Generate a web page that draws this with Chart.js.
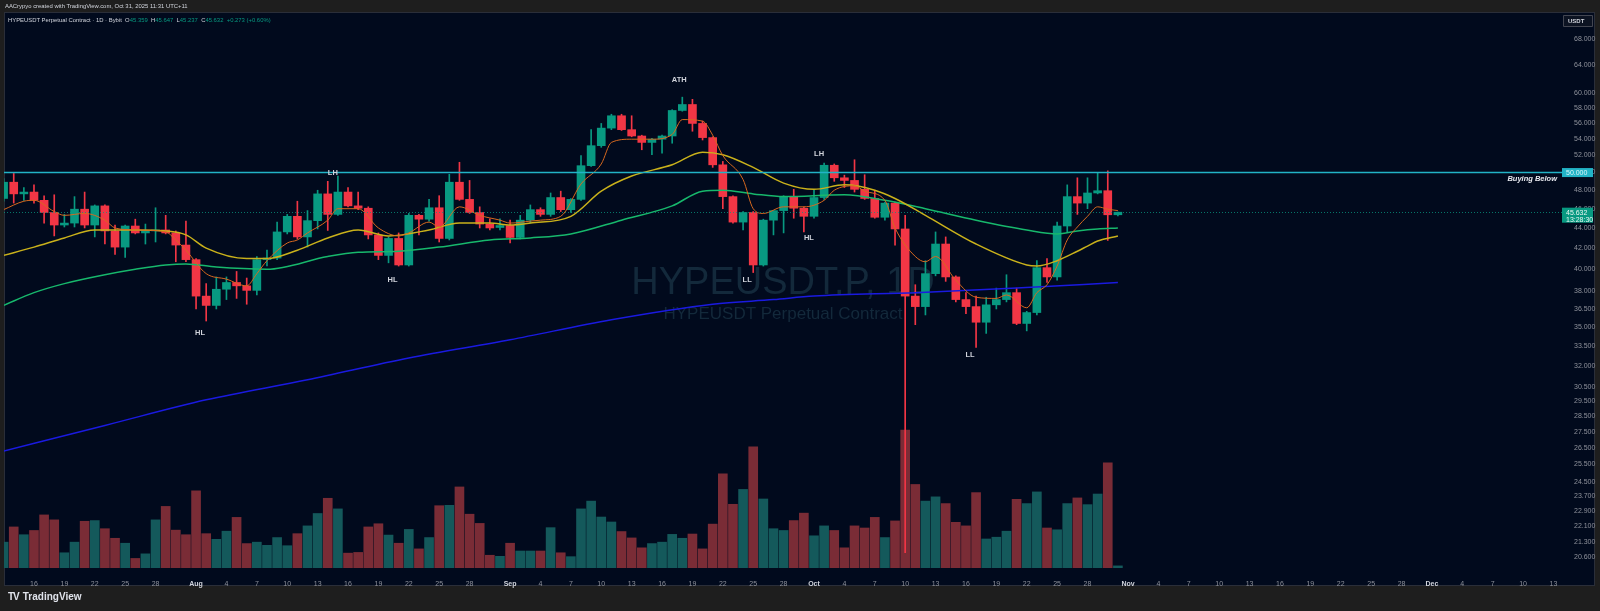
<!DOCTYPE html>
<html>
<head>
<meta charset="utf-8">
<title>HYPEUSDT Perpetual Contract - 1D</title>
<script src="https://cdn.jsdelivr.net/npm/chart.js@4.4.0/dist/chart.umd.min.js"></script>
<style>
  html, body { margin: 0; padding: 0; width: 1600px; height: 611px; background: #1e1e1e; overflow: hidden;
    font-family: "Liberation Sans", Arial, sans-serif; }
  #pane { position: absolute; left: 4px; top: 12px; width: 1591px; height: 574px; background: #010a1d;
    border: 1px solid #2a2e39; box-sizing: border-box; }
  #header { position: absolute; left: 5px; top: 3px; font-size: 5.9px; color: #d1d4dc; white-space: nowrap; }
  #legend { position: absolute; left: 8px; top: 17px; font-size: 5.9px; color: #d1d4dc; white-space: nowrap; }
  #legend .v { color: #089981; }
  #logo { position: absolute; left: 8px; top: 591px; font-size: 10px; font-weight: bold; color: #e0e3eb; white-space: nowrap; }
  #logo b { font-weight: 900; letter-spacing: -1px; margin-right: 4px; }
  canvas { position: absolute; left: 0; top: 0; }
</style>
</head>
<body>
<div id="pane"></div>
<canvas id="chart" width="1600" height="611"></canvas>
<div id="header">AACrypyo created with TradingView.com, Oct 31, 2025 11:31 UTC+11</div>
<div id="legend">HYPEUSDT Perpetual Contract · 1D · Bybit&nbsp;&nbsp;O<span class="v">45.359</span>&nbsp;&nbsp;H<span class="v">45.647</span>&nbsp;&nbsp;L<span class="v">45.237</span>&nbsp;&nbsp;C<span class="v">45.632</span>&nbsp;&nbsp;<span class="v">+0.273 (+0.60%)</span></div>
<div id="logo"><b>TV</b>TradingView</div>
<script>
// Daily candles, first one is 13 Jul 2025, last one 31 Oct 2025
const firstDay = [2025, 6, 13];
const opens = [47.1, 48.9, 47.6, 47.8, 46.9, 45.6, 44.3, 44.5, 45.95, 44.3, 46.3, 43.7, 42.1, 44.2, 43.5, 43.7, 43.8, 43.5, 42.3,
  40.9, 37.6, 36.8, 38.2, 38.8, 38.5, 38.1, 40.9, 41.05, 43.6, 45.2, 43.1, 44.75, 47.6, 45.4, 47.8, 46.3, 46.05, 43.3, 41.3, 42.95,
  40.4, 45.3, 44.9, 46.1, 42.95, 48.9, 47.0, 45.6, 44.4, 44.05, 44.25, 43.05, 44.8, 45.9, 45.4, 47.2, 45.9, 47.0, 50.8, 53.2,
  55.4, 57.0, 55.2, 54.4, 53.6, 54.0, 54.4, 57.7, 58.5, 56.0, 54.2, 50.9, 47.3, 44.6, 45.6, 40.4, 44.8, 45.8, 47.3, 46.05,
  45.2, 47.2, 50.85, 49.4, 49.1, 48.1, 47.1, 45.1, 46.6, 43.9, 37.6, 36.7, 39.6, 42.4, 39.3, 37.3, 36.7, 35.4, 36.85, 37.3,
  37.9, 35.3, 36.2, 40.15, 39.3, 44.2, 47.3, 46.6, 47.7, 47.95, 45.359];
const highs = [49.3, 49.9, 48.3, 48.6, 47.4, 47.5, 45.4, 47.3, 47.8, 46.4, 46.4, 44.3, 44.3, 44.9, 44.4, 46.1, 45.3, 43.7, 44.7,
  41.0, 38.7, 39.3, 39.3, 39.8, 39.2, 41.2, 41.8, 44.6, 45.4, 46.8, 45.8, 48.0, 49.0, 49.6, 48.3, 47.8, 46.2, 43.5, 43.1, 43.5,
  45.5, 45.4, 47.0, 47.4, 49.8, 51.2, 49.1, 46.2, 44.95, 44.95, 44.8, 45.3, 46.4, 46.1, 47.7, 47.9, 47.1, 52.0, 55.2, 56.0,
  57.2, 57.2, 57.0, 54.5, 54.1, 54.5, 57.8, 59.5, 59.2, 56.3, 54.3, 51.3, 47.4, 45.7, 45.7, 44.9, 45.8, 47.4, 48.1, 46.2,
  48.0, 51.1, 51.0, 49.7, 51.5, 49.75, 48.0, 46.7, 46.7, 45.3, 38.6, 40.8, 43.6, 43.1, 39.4, 37.9, 37.6, 37.5, 38.3, 39.5,
  38.3, 36.3, 40.8, 41.0, 44.6, 48.6, 49.4, 49.4, 50.0, 50.2, 45.647];
const lows = [46.8, 46.6, 46.9, 46.6, 44.5, 43.2, 44.1, 44.1, 44.0, 43.1, 42.4, 41.4, 41.1, 43.4, 42.4, 42.6, 43.4, 40.7, 40.7,
  36.5, 35.5, 36.5, 37.3, 37.4, 36.9, 37.7, 40.3, 40.9, 43.4, 42.9, 42.1, 43.9, 43.75, 45.3, 46.2, 45.9, 42.9, 40.9, 40.6, 40.3,
  40.3, 43.3, 44.7, 42.6, 42.8, 46.9, 45.5, 44.0, 43.8, 43.8, 42.5, 42.9, 44.5, 45.2, 45.2, 45.7, 45.6, 46.9, 50.7, 53.0,
  55.2, 55.1, 54.3, 52.7, 52.1, 52.3, 53.5, 57.6, 55.0, 53.9, 50.6, 46.0, 44.5, 43.8, 39.7, 40.3, 43.3, 43.5, 45.0, 43.6,
  45.0, 47.0, 49.0, 48.3, 47.8, 47.0, 45.0, 44.8, 42.3, 20.8, 35.2, 36.0, 39.4, 38.9, 37.1, 36.1, 33.4, 34.5, 36.5, 37.1,
  35.2, 34.7, 36.0, 38.8, 39.0, 43.6, 45.4, 46.0, 47.6, 42.75, 45.237];
const closes = [48.9, 47.6, 47.8, 46.9, 45.6, 44.3, 44.5, 45.95, 44.3, 46.3, 43.7, 42.1, 44.2, 43.5, 43.7, 43.8, 43.5, 42.3, 40.9,
  37.6, 36.8, 38.2, 38.8, 38.5, 38.1, 40.9, 41.05, 43.6, 45.2, 43.1, 44.75, 47.6, 45.4, 47.8, 46.3, 46.05, 43.3, 41.3, 42.95, 40.4,
  45.3, 44.9, 46.1, 42.95, 48.9, 47.0, 45.6, 44.4, 44.0, 44.25, 43.05, 44.8, 45.9, 45.4, 47.2, 45.9, 47.0, 50.8, 53.2, 55.4,
  57.0, 55.2, 54.4, 53.6, 54.0, 54.4, 57.7, 58.5, 56.0, 54.2, 50.9, 47.3, 44.6, 45.6, 40.4, 44.8, 45.8, 47.3, 46.05, 45.2,
  47.2, 50.85, 49.4, 49.1, 48.1, 47.1, 45.1, 46.6, 43.9, 37.6, 36.7, 39.6, 42.4, 39.3, 37.3, 36.7, 35.4, 36.85, 37.3, 37.9,
  35.3, 36.2, 40.15, 39.3, 44.2, 47.3, 46.6, 47.7, 47.95, 45.359, 45.632];
const volumes = [73, 116, 94, 106, 150, 136, 43, 73, 132, 134, 111, 84, 70, 27, 40, 136, 174, 107, 94,
  218, 97, 81, 104, 143, 69, 73, 64, 86, 63, 97, 119, 154, 197, 167, 42, 44, 116, 125, 93, 70,
  109, 54, 86, 176, 177, 229, 152, 126, 36, 33, 70, 48, 48, 48, 114, 43, 32, 167, 189, 144,
  130, 103, 85, 57, 69, 73, 95, 84, 96, 54, 124, 266, 180, 222, 342, 195, 111, 106, 134, 155,
  91, 119, 106, 57, 119, 113, 143, 86, 133, 390, 236, 189, 201, 182, 129, 119, 213, 82, 87, 104,
  194, 182, 215, 113, 108, 182, 198, 179, 209, 297, 6];

// moving averages as [day index, value]
const maFast = [[0, 45.9], [2, 46.8], [3, 46.9], [5, 45.7], [6, 45.3], [8, 45.5], [10, 44.8], [11, 44.0], [13, 43.8], [16, 43.6],
  [17, 42.8], [18, 41.8], [20, 39.6], [22, 39.1], [24, 38.5], [25, 39.6], [26, 40.8], [28, 42.5], [29, 42.8], [30, 43.5],
  [32, 44.8], [33, 46.0], [35, 46.0], [37, 44.0], [39, 43.2], [40, 43.5], [42, 44.6], [43, 44.1], [45, 46.2], [47, 45.3],
  [49, 44.8], [50, 44.5], [52, 44.7], [53, 44.8], [55, 45.2], [57, 48.7], [59, 51.0], [60, 53.6], [62, 54.0], [64, 54.0],
  [66, 54.6], [67, 56.5], [69, 56.3], [70, 54.5], [71, 52.0], [73, 49.2], [74, 46.0], [75, 45.5], [77, 46.2], [79, 46.2],
  [81, 46.9], [82, 48.0], [84, 48.5], [85, 47.9], [87, 46.9], [88, 44.0], [90, 41.2], [91, 40.7], [92, 41.2], [94, 39.0],
  [96, 37.5], [98, 37.4], [99, 37.7], [101, 36.6], [102, 37.9], [103, 38.6], [104, 40.3], [105, 42.8], [106, 44.1],
  [107, 45.2], [108, 46.2], [109, 45.95], [110, 45.8]];
const maMid = [[0, 41.3], [3, 42.1], [6, 43.0], [9, 43.8], [13, 43.8], [16, 43.7], [18, 43.3], [20, 42.0], [24, 41.0], [26, 41.0],
  [29, 41.8], [32, 43.0], [35, 43.8], [38, 43.2], [42, 43.8], [45, 44.5], [48, 44.5], [50, 44.3], [52, 44.5], [56, 45.2],
  [59, 47.9], [62, 49.6], [66, 50.9], [69, 52.4], [71, 52.1], [74, 50.6], [77, 48.8], [80, 48.1], [83, 48.6], [86, 48.0],
  [88, 47.1], [91, 45.3], [96, 42.4], [101, 40.4], [102, 40.3], [104, 40.8], [106, 41.7], [107, 42.2], [108, 42.7], [110, 43.2]];
const maSlow = [[0, 36.8], [3, 37.9], [6, 38.7], [10, 39.5], [13, 40.0], [16, 40.4], [18, 40.5], [21, 40.2], [26, 40.0], [32, 41.2],
  [35, 41.6], [39, 41.7], [43, 42.1], [48, 42.8], [52, 43.0], [56, 43.4], [61, 44.8], [66, 46.3], [69, 47.9], [71, 48.0],
  [74, 47.6], [77, 47.3], [83, 47.5], [87, 46.9], [91, 46.0], [96, 44.8], [101, 43.8], [104, 43.4], [106, 43.7], [108, 43.9], [110, 44.0]];
const maLong = [[0, 26.3], [10, 27.9], [20, 29.6], [30, 31.0], [40, 32.6], [50, 34.0], [60, 35.6], [70, 36.9], [76, 37.3],
  [80, 37.6], [90, 37.9], [100, 38.3], [110, 38.8]];

const priceTicks = [68, 64, 60, 58, 56, 54, 52, 50, 48, 46, 44, 42, 40, 38, 36.5, 35, 33.5, 32, 30.5, 29.5, 28.5,
  27.5, 26.5, 25.5, 24.5, 23.7, 22.9, 22.1, 21.3, 20.6];
const swingText = ['HL', 'LH', 'HL', 'ATH', 'LL', 'HL', 'LH', 'LL'];
const swingIdx = [19.4, 32.5, 38.4, 66.7, 73.4, 79.5, 80.5, 95.4];
const swingPrice = [34.5, 50.0, 39.0, 61.9, 39.0, 43.0, 52.25, 32.8];
const buyLevel = 50;
const lastPrice = 45.632;
const countdown = '13:28:30';

const monthNames = ['Jan', 'Feb', 'Mar', 'Apr', 'May', 'Jun', 'Jul', 'Aug', 'Sep', 'Oct', 'Nov', 'Dec'];
const dayOf = (i) => new Date(Date.UTC(firstDay[0], firstDay[1], firstDay[2] + i));
const tickIdx = [];
for (let i = 1; i <= 153; i++) {
  const d = dayOf(i).getUTCDate();
  if (d % 3 === 1 && d <= 28) tickIdx.push(i);
}
const tickText = (i) => {
  const dt = dayOf(Math.round(i));
  return dt.getUTCDate() === 1 ? monthNames[dt.getUTCMonth()] : String(dt.getUTCDate());
};
const isMonth = (ctx) => !!(ctx && ctx.tick) && tickText(ctx.tick.value).length === 3;

const FONT = '"Liberation Sans", Arial, sans-serif';
Chart.defaults.font.family = FONT;

const upCol = '#089981', downCol = '#f23645';
const idx = opens.map((_, i) => i);
const candleCol = idx.map(i => closes[i] >= opens[i] ? upCol : downCol);
const volCol = idx.map(i => closes[i] >= opens[i] ? '#14595b' : '#7a2c36');
const pts = arr => arr.map(p => ({ x: p[0], y: p[1] }));

const lineSet = (label, arr, color, width, order) => ({
  type: 'line', label, data: pts(arr), borderColor: color, borderWidth: width,
  pointRadius: 0, cubicInterpolationMode: 'monotone', yAxisID: 'y', order
});

// extra drawing: watermark, price lines, swing labels, axis boxes
const decor = {
  id: 'decor',
  beforeDatasetsDraw(chart) {
    const { ctx, chartArea: a } = chart;
    const cx = (a.left + a.right) / 2, cy = (a.top + a.bottom) / 2;
    ctx.save();
    ctx.fillStyle = '#13293b';
    ctx.textAlign = 'center';
    ctx.textBaseline = 'alphabetic';
    ctx.font = '38px ' + FONT;
    ctx.fillText('HYPEUSDT.P, 1D', cx, cy + 3);
    ctx.font = '17px ' + FONT;
    ctx.fillText('HYPEUSDT Perpetual Contract', cx, cy + 28);
    ctx.restore();
  },
  afterDatasetsDraw(chart) {
    const { ctx, chartArea: a, scales: { x, y } } = chart;
    ctx.save();
    // last price dotted line
    const yp = Math.round(y.getPixelForValue(lastPrice)) + 0.5;
    ctx.strokeStyle = 'rgba(8,153,129,0.75)';
    ctx.lineWidth = 1;
    ctx.setLineDash([1, 2]);
    ctx.beginPath(); ctx.moveTo(a.left, yp); ctx.lineTo(a.right, yp); ctx.stroke();
    ctx.setLineDash([]);
    // buying below level
    const yb = y.getPixelForValue(buyLevel);
    ctx.strokeStyle = '#22b3c6';
    ctx.lineWidth = 1.5;
    ctx.beginPath(); ctx.moveTo(a.left, yb); ctx.lineTo(a.right, yb); ctx.stroke();
    ctx.fillStyle = '#e6e8ee';
    ctx.font = 'italic bold 7.5px ' + FONT;
    ctx.textAlign = 'right';
    ctx.textBaseline = 'middle';
    ctx.fillText('Buying Below', a.right - 5, yb + 6.5);
    // swing labels
    ctx.font = 'bold 7.5px ' + FONT;
    ctx.fillStyle = '#d1d4dc';
    ctx.textAlign = 'center';
    swingText.forEach((t, k) => {
      ctx.fillText(t, x.getPixelForValue(swingIdx[k]), y.getPixelForValue(swingPrice[k]));
    });
    ctx.restore();
  },
  afterDraw(chart) {
    const { ctx, chartArea: a, scales: { y } } = chart;
    ctx.save();
    ctx.textBaseline = 'middle';
    ctx.textAlign = 'left';
    // 50.000 box
    const yb = y.getPixelForValue(buyLevel);
    ctx.fillStyle = '#22b3c6';
    ctx.fillRect(a.right, yb - 4.5, 31, 9);
    ctx.fillStyle = '#d8f6fa';
    ctx.font = '7px ' + FONT;
    ctx.fillText(buyLevel.toFixed(3), a.right + 4, yb + 0.5);
    // last price box
    const yp = y.getPixelForValue(lastPrice);
    ctx.fillStyle = '#089981';
    ctx.fillRect(a.right, yp - 4.5, 31, 15);
    ctx.fillStyle = '#e8f7f3';
    ctx.fillText(lastPrice.toFixed(3), a.right + 4, yp + 0.5);
    ctx.fillText(countdown, a.right + 4, yp + 7.5);
    // currency box
    ctx.strokeStyle = '#434651';
    ctx.fillStyle = '#0c1322';
    ctx.beginPath();
    ctx.rect(a.right + 1.5, 15.5, 29, 11);
    ctx.fill(); ctx.stroke();
    ctx.fillStyle = '#d1d4dc';
    ctx.font = 'bold 6px ' + FONT;
    ctx.fillText('USDT', a.right + 6, 21.3);
    ctx.restore();
  }
};

new Chart(document.getElementById('chart'), {
  type: 'bar',
  data: {
    datasets: [
      lineSet('EMA fast', maFast, '#d7691f', 1, 1),
      lineSet('EMA mid', maMid, '#c9b11b', 1.5, 2),
      lineSet('EMA slow', maSlow, '#17b86c', 1.5, 3),
      lineSet('EMA long', maLong, '#1a1ae0', 1.5, 4),
      {
        label: 'bodies', data: idx.map(i => ({ x: i, y: [opens[i], closes[i]] })),
        backgroundColor: candleCol, barThickness: 8, minBarLength: 1, grouped: false, yAxisID: 'y', order: 5
      },
      {
        label: 'wicks', data: idx.map(i => ({ x: i, y: [lows[i], highs[i]] })),
        backgroundColor: candleCol, barThickness: 1, grouped: false, yAxisID: 'y', order: 6
      },
      {
        label: 'volume', data: idx.map(i => ({ x: i, y: volumes[i] })),
        backgroundColor: volCol, barThickness: 9, grouped: false, yAxisID: 'vol', order: 10
      }
    ]
  },
  options: {
    responsive: false,
    animation: false,
    layout: { padding: { left: 4, top: 13, right: 0, bottom: 0 } },
    plugins: { legend: { display: false }, tooltip: { enabled: false } },
    scales: {
      x: {
        type: 'linear', min: 0.04, max: 153.84, offset: false,
        grid: { display: false }, border: { display: false },
        afterBuildTicks: s => { s.ticks = tickIdx.map(v => ({ value: v })); },
        afterFit: s => { s.height = 43; },
        ticks: {
          autoSkip: false, maxRotation: 0, padding: 4,
          color: ctx => isMonth(ctx) ? '#d1d4dc' : '#8f929b',
          font: ctx => ({ size: 7, weight: isMonth(ctx) ? 'bold' : 'normal' }),
          callback: v => tickText(v)
        }
      },
      y: {
        type: 'logarithmic', position: 'right', min: 20.08, max: 72.25,
        grid: { display: false }, border: { display: false },
        afterBuildTicks: s => { s.ticks = priceTicks.map(v => ({ value: v })); },
        afterFit: s => { s.width = 38; },
        ticks: {
          autoSkip: false, padding: 4, color: '#8f929b', font: { size: 7 },
          callback: v => Number(v).toFixed(3)
        }
      },
      vol: { type: 'linear', display: false, min: 0, max: 1568 }
    }
  },
  plugins: [decor]
});
</script>
</body>
</html>
